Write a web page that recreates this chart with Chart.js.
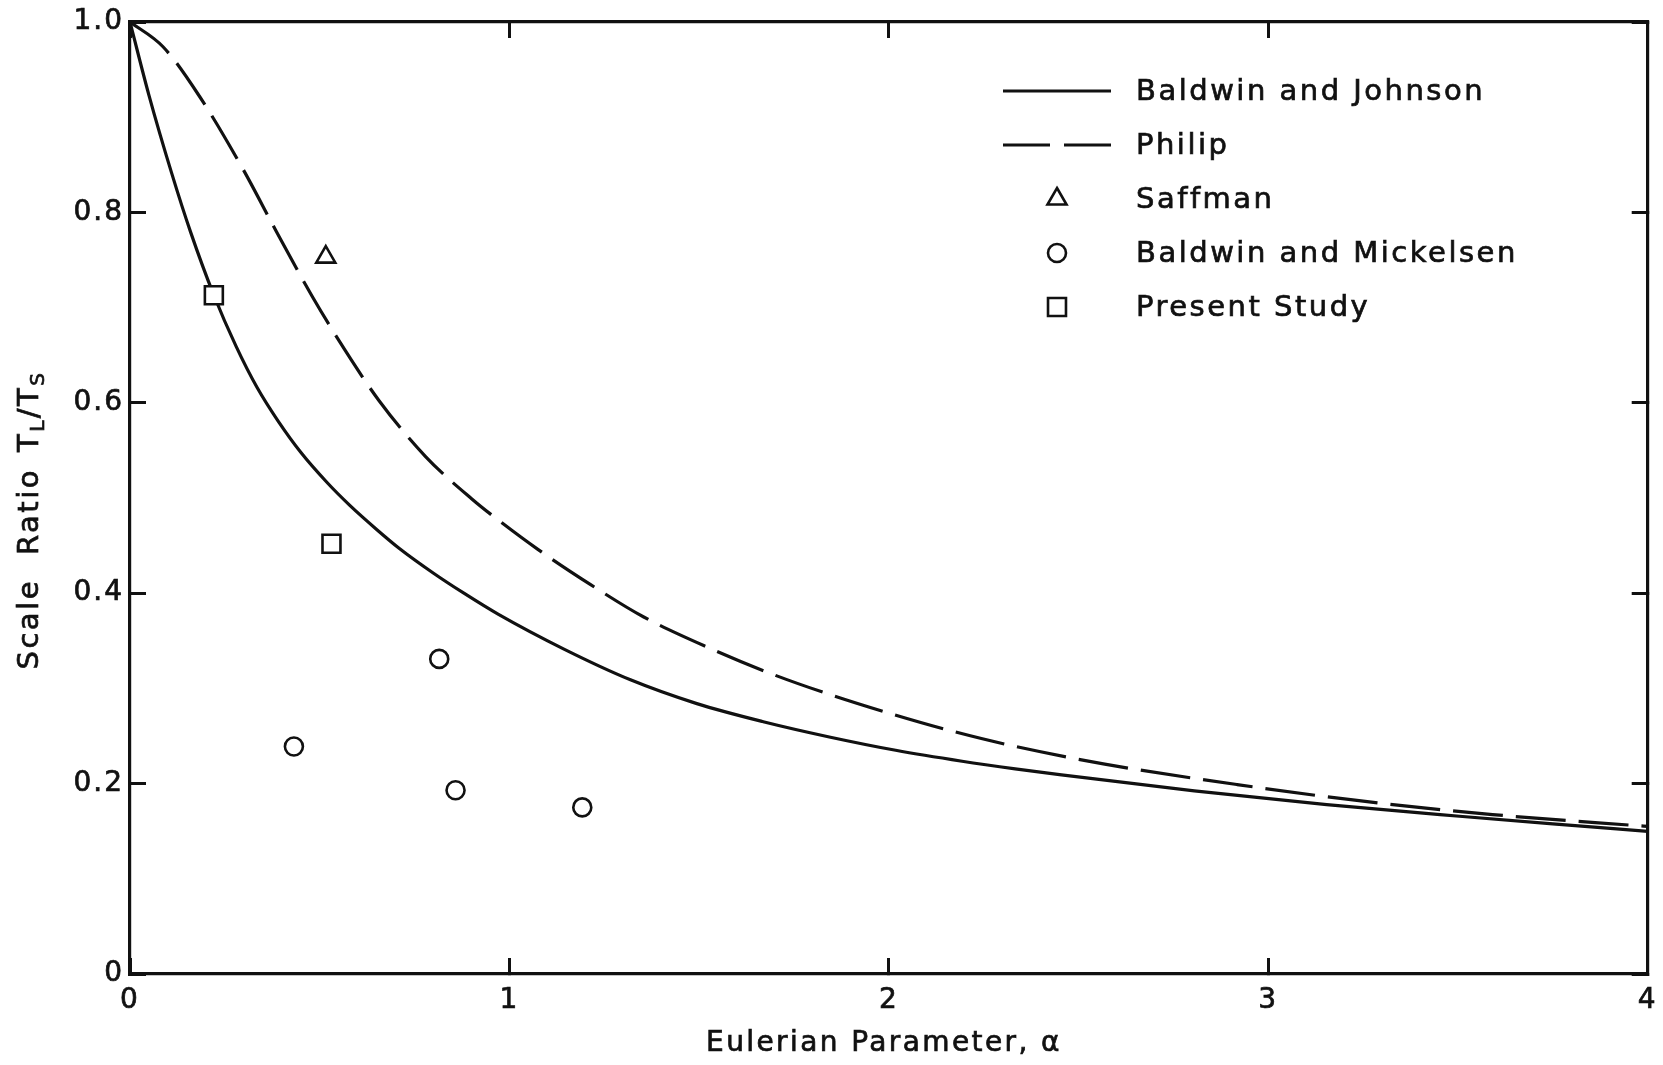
<!DOCTYPE html>
<html>
<head>
<meta charset="utf-8">
<title>Scale ratio versus Eulerian parameter</title>
<script src="https://cdn.jsdelivr.net/npm/chart.js@4.4.1/dist/chart.umd.min.js"></script>
<style>
  html, body { margin: 0; padding: 0; background: #ffffff; }
  #wrap { width: 1663px; height: 1065px; }
  canvas { display: block; }
</style>
</head>
<body>
<div id="wrap"><canvas id="chart" width="1663" height="1065"></canvas></div>
<script>
// ---- data ---------------------------------------------------------------
// Baldwin and Johnson theory (solid curve)
const bjAlpha = [0, 0.05, 0.11, 0.16, 0.22, 0.28, 0.335, 0.39, 0.45, 0.52, 0.58, 0.65,
                 0.71, 0.80, 0.88, 0.97, 1.145, 1.319, 1.494, 1.669, 1.843, 2.018, 2.193,
                 2.333, 2.455, 2.805, 3.154, 3.504, 3.75, 4.0];
const bjRatio = [1.0, 0.923, 0.841, 0.779, 0.714, 0.659, 0.616, 0.581, 0.548, 0.516, 0.492, 0.467,
                 0.447, 0.421, 0.400, 0.378, 0.341, 0.309, 0.284, 0.265, 0.249, 0.235, 0.2235,
                 0.2155, 0.2092, 0.1924, 0.178, 0.1657, 0.1576, 0.1498];

// Philip theory (dashed curve)
const philipAlpha = [0, 0.087, 0.183, 0.297, 0.385, 0.48, 0.568, 0.656, 0.779, 0.901, 0.97,
                     1.075, 1.214, 1.354, 1.529, 1.686, 1.83, 1.992, 2.149, 2.311, 2.569,
                     2.918, 3.25, 3.591, 4.0];
const philipRatio = [1.0, 0.974, 0.922, 0.846, 0.7805, 0.712, 0.6545, 0.6025, 0.5435, 0.499, 0.477,
                     0.446, 0.409, 0.375, 0.342, 0.316, 0.2955, 0.275, 0.257, 0.241, 0.2205,
                     0.199, 0.1815, 0.1675, 0.155];

// Measured / reported points
const saffmanAlpha = [0.516];
const saffmanRatio = [0.753];
const mickelsenAlpha = [0.432, 0.815, 0.858, 1.192];
const mickelsenRatio = [0.239, 0.331, 0.193, 0.175];
const presentAlpha = [0.221, 0.531];
const presentRatio = [0.713, 0.452];

// Axis tick labels
const xTickLabels = ['0', '1', '2', '3', '4'];
const yTickLabels = ['0', '0.2', '0.4', '0.6', '0.8', '1.0'];

// ---- styling ------------------------------------------------------------
const INK = '#111111';
const FONT = '"DejaVu Sans", "Liberation Sans", sans-serif';
const TEXT_STROKE = 0.7;   // slight weight added to lettering

const toXY = (xs, ys) => xs.map((x, i) => ({ x: x, y: ys[i] }));

// Outer frame of the plot in canvas pixels
const FRAME = { left: 130, top: 22, right: 1656, bottom: 974 };
const CANVAS_W = 1663, CANVAS_H = 1065;

// Scale helpers: fix the box sizes so the plotting area lands on FRAME
function fixBox(size, horizontal) {
  return function (scale) {
    if (horizontal) { scale.height = size; scale.paddingLeft = 0; scale.paddingRight = 0; }
    else { scale.width = size; scale.paddingTop = 0; scale.paddingBottom = 0; }
  };
}

const frameAxis = {
  border: { display: true, color: INK, width: 3.2 },
  grid: { display: true, drawOnChartArea: false, drawTicks: true, tickLength: -16,
          color: INK, lineWidth: 3 }
};

function inkText(ctx, text, x, y) {
  ctx.fillText(text, x, y);
  ctx.lineWidth = TEXT_STROKE;
  ctx.strokeStyle = INK;
  ctx.strokeText(text, x, y);
}

// Legend placed inside the plot, upper right
const legendPlugin = {
  id: 'insetLegend',
  afterDatasetsDraw(chart) {
    const ctx = chart.ctx;
    const lineX0 = 1003, lineX1 = 1111, textX = 1136;
    const rowY0 = 91, rowStep = 54;
    ctx.save();
    ctx.font = '29px ' + FONT;
    ctx.letterSpacing = '2.5px';
    ctx.textBaseline = 'middle';
    ctx.textAlign = 'left';
    chart.data.datasets.forEach((ds, i) => {
      const y = rowY0 + i * rowStep;
      ctx.strokeStyle = INK;
      ctx.fillStyle = INK;
      if (ds.showLine) {
        ctx.lineWidth = ds.borderWidth;
        ctx.setLineDash(ds.borderDash && ds.borderDash.length ? [47, 14] : []);
        ctx.beginPath();
        ctx.moveTo(lineX0, y);
        ctx.lineTo(lineX1, y);
        ctx.stroke();
        ctx.setLineDash([]);
      } else {
        Chart.helpers.drawPoint(ctx, {
          pointStyle: ds.pointStyle,
          radius: ds.pointRadius,
          borderWidth: ds.pointBorderWidth,
          rotation: 0
        }, (lineX0 + lineX1) / 2, y);
        ctx.fillStyle = '#ffffff';
        ctx.fill();
        ctx.lineWidth = ds.pointBorderWidth;
        ctx.strokeStyle = INK;
        ctx.stroke();
      }
      ctx.fillStyle = INK;
      inkText(ctx, ds.label, textX, y + 1);
    });
    ctx.restore();
  }
};

// Axis titles: x title centred under the frame, rotated y title with subscripts
const axisTitlePlugin = {
  id: 'axisTitles',
  afterDraw(chart) {
    const ctx = chart.ctx;
    ctx.save();
    ctx.fillStyle = INK;
    ctx.textBaseline = 'middle';

    // x title
    ctx.font = '28px ' + FONT;
    ctx.letterSpacing = '2.4px';
    ctx.textAlign = 'center';
    inkText(ctx, 'Eulerian Parameter, α', 884, 1044);

    // y title: Scale Ratio T_L / T_S
    const main = '29px ' + FONT, sub = '20px ' + FONT;
    const pieces = [
      { t: 'Scale', f: main, dy: 0, gap: 24 },
      { t: 'Ratio', f: main, dy: 0, gap: 16 },
      { t: 'T', f: main, dy: 0, gap: 0 },
      { t: 'L', f: sub, dy: 9, gap: 0 },
      { t: '/T', f: main, dy: 0, gap: 0 },
      { t: 'S', f: sub, dy: 9, gap: 0 }
    ];
    ctx.letterSpacing = '2.5px';
    ctx.textAlign = 'left';
    let total = 0;
    pieces.forEach(p => { ctx.font = p.f; p.w = ctx.measureText(p.t).width; total += p.w + p.gap; });
    ctx.translate(30, 520);
    ctx.rotate(-Math.PI / 2);
    let x = -total / 2;
    pieces.forEach(p => {
      ctx.font = p.f;
      inkText(ctx, p.t, x, p.dy);
      x += p.w + p.gap;
    });
    ctx.restore();
  }
};

// Letter spacing for the library-drawn tick labels
const spacingPlugin = {
  id: 'letterSpacing',
  beforeDraw(chart) { chart.ctx.letterSpacing = '2px'; },
  afterDraw(chart) { chart.ctx.letterSpacing = '0px'; }
};

const tickFont = { family: FONT, size: 28 };

const chart = new Chart(document.getElementById('chart'), {
  type: 'scatter',
  data: {
    datasets: [
      {
        label: 'Baldwin and Johnson',
        data: toXY(bjAlpha, bjRatio),
        showLine: true, borderColor: INK, borderWidth: 3.2,
        pointRadius: 0, cubicInterpolationMode: 'monotone', order: 2
      },
      {
        label: 'Philip',
        data: toXY(philipAlpha, philipRatio),
        showLine: true, borderColor: INK, borderWidth: 3.2, borderDash: [50, 13],
        pointRadius: 0, cubicInterpolationMode: 'monotone', order: 2
      },
      {
        label: 'Saffman',
        data: toXY(saffmanAlpha, saffmanRatio),
        showLine: false, pointStyle: 'triangle', pointRadius: 11,
        pointBorderWidth: 2.6, pointBorderColor: INK, pointBackgroundColor: '#ffffff', order: 1
      },
      {
        label: 'Baldwin and Mickelsen',
        data: toXY(mickelsenAlpha, mickelsenRatio),
        showLine: false, pointStyle: 'circle', pointRadius: 9,
        pointBorderWidth: 2.6, pointBorderColor: INK, pointBackgroundColor: '#ffffff', order: 1
      },
      {
        label: 'Present Study',
        data: toXY(presentAlpha, presentRatio),
        showLine: false, pointStyle: 'rect', pointRadius: 12.7,
        pointBorderWidth: 2.6, pointBorderColor: INK, pointBackgroundColor: '#ffffff', order: 1
      }
    ]
  },
  options: {
    responsive: false,
    devicePixelRatio: 1,
    animation: false,
    events: [],
    layout: { padding: { top: FRAME.top, right: CANVAS_W - FRAME.right, left: 0, bottom: 0 } },
    plugins: { legend: { display: false }, tooltip: { enabled: false }, title: { display: false } },
    scales: {
      x: Object.assign({}, frameAxis, {
        type: 'linear', position: 'bottom', min: 0, max: 4,
        ticks: { stepSize: 1, color: INK, padding: 26, font: tickFont,
                 textStrokeColor: INK, textStrokeWidth: TEXT_STROKE,
                 callback: v => xTickLabels[Math.round(v)] },
        afterFit: fixBox(CANVAS_H - FRAME.bottom, true)
      }),
      xTop: Object.assign({}, frameAxis, {
        type: 'linear', position: 'top', min: 0, max: 4,
        ticks: { stepSize: 1, display: false },
        afterFit: fixBox(0, true)
      }),
      y: Object.assign({}, frameAxis, {
        type: 'linear', position: 'left', min: 0, max: 1,
        ticks: { stepSize: 0.2, color: INK, padding: 22, font: tickFont,
                 textStrokeColor: INK, textStrokeWidth: TEXT_STROKE,
                 callback: v => yTickLabels[Math.round(v * 5)] },
        afterFit: fixBox(FRAME.left, false)
      }),
      yRight: Object.assign({}, frameAxis, {
        type: 'linear', position: 'right', min: 0, max: 1,
        ticks: { stepSize: 0.2, display: false },
        afterFit: fixBox(0, false)
      })
    }
  },
  plugins: [spacingPlugin, legendPlugin, axisTitlePlugin]
});
</script>
</body>
</html>
